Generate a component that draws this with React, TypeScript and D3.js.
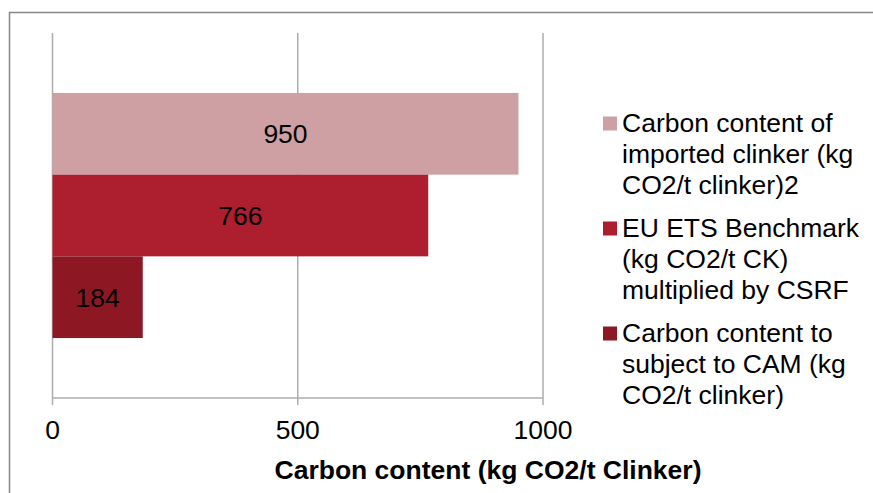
import React from "react";
import * as d3 from "d3";

const seriesNames = [
  "Carbon content of imported clinker (kg CO2/t clinker)2",
  "EU ETS Benchmark (kg CO2/t CK) multiplied by CSRF",
  "Carbon content to subject to CAM (kg CO2/t clinker)",
];
const seriesValues = [950, 766, 184];
const seriesColors = ["#CEA0A3", "#AD1E2E", "#8D1824"];
const legendLines = [
  ["Carbon content of", "imported clinker (kg", "CO2/t clinker)2"],
  ["EU ETS Benchmark", "(kg CO2/t CK)", "multiplied by CSRF"],
  ["Carbon content to", "subject to CAM (kg", "CO2/t clinker)"],
];
const xTicks = [0, 500, 1000];
const xTitle = "Carbon content (kg CO2/t Clinker)";

const W = 873;
const H = 493;
const left = 52.5;
const right = 543;
const top = 33;
const bottom = 398;
const FONT = "'Liberation Sans', Arial, sans-serif";
const FS = 26.5;

export default function App() {
  const x = d3.scaleLinear().domain([0, 1000]).range([left, right]);
  const y = d3
    .scaleBand<string>()
    .domain(seriesNames)
    .range([top, bottom])
    .paddingInner(0)
    .paddingOuter(0.734);
  const gridColor = "#ADADAD";

  return (
    <svg
      width={W}
      height={H}
      style={{ position: "absolute", left: 0, top: 0, background: "#fff" }}
      fontFamily={FONT}
    >
      <rect x={9.5} y={12.5} width={W + 20} height={H + 20} fill="#fff" stroke="#878787" strokeWidth={1.5} />
      {/* gridlines & ticks */}
      {xTicks.map((t) => (
        <line key={"g" + t} x1={x(t)} x2={x(t)} y1={top} y2={bottom + 7} stroke={gridColor} strokeWidth={1.5} />
      ))}
      <line x1={left} x2={right} y1={bottom} y2={bottom} stroke={gridColor} strokeWidth={1.5} />
      {/* bars */}
      {seriesNames.map((s, i) => (
        <g key={s}>
          <rect
            x={x(0)}
            y={y(s)!}
            width={x(seriesValues[i]) - x(0)}
            height={y.bandwidth()}
            fill={seriesColors[i]}
          />
          <text
            x={(x(0) + x(seriesValues[i])) / 2}
            y={y(s)! + y.bandwidth() / 2}
            dy="0.36em"
            textAnchor="middle"
            fontSize={FS}
            fill="#000"
          >
            {seriesValues[i]}
          </text>
        </g>
      ))}
      {/* tick labels */}
      {xTicks.map((t) => (
        <text key={"t" + t} x={x(t)} y={439} textAnchor="middle" fontSize={FS} fill="#000">
          {t}
        </text>
      ))}
      <text x={488} y={479} textAnchor="middle" fontSize={FS} fontWeight="bold" fill="#000">
        {xTitle}
      </text>
      {/* legend */}
      {legendLines.map((lines, i) => {
        const baseY = 131.5 + i * 105;
        return (
          <g key={"l" + i}>
            <rect x={603} y={baseY - 15} width={14} height={14} fill={seriesColors[i]} />
            {lines.map((ln, j) => (
              <text key={j} x={622} y={baseY + j * 31} fontSize={FS} fill="#000">
                {ln}
              </text>
            ))}
          </g>
        );
      })}
    </svg>
  );
}
